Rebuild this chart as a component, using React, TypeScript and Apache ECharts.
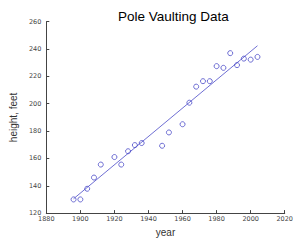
import React, { useEffect, useRef } from "react";
import * as echarts from "echarts";

const years = [1896, 1900, 1904, 1908, 1912, 1920, 1924, 1928, 1932, 1936, 1948, 1952, 1960, 1964, 1968, 1972, 1976, 1980, 1984, 1988, 1992, 1996, 2000, 2004];
const heights = [130, 130, 137.8, 146, 155.5, 161, 155.5, 165.25, 169.75, 171.25, 169.25, 179, 185, 200.75, 212.5, 216.5, 216.5, 227.5, 226.25, 237, 228.25, 233, 232.25, 234.25];

function fitLine(xs: number[], ys: number[]) {
  const n = xs.length;
  const mx = xs.reduce((a, b) => a + b, 0) / n;
  const my = ys.reduce((a, b) => a + b, 0) / n;
  let sxy = 0, sxx = 0;
  for (let i = 0; i < n; i++) {
    sxy += (xs[i] - mx) * (ys[i] - my);
    sxx += (xs[i] - mx) * (xs[i] - mx);
  }
  const k = sxy / sxx;
  const x0 = xs[0], x1 = xs[n - 1];
  return [[x0, my + k * (x0 - mx)], [x1, my + k * (x1 - mx)]];
}

export default function App() {
  const ref = useRef<HTMLDivElement>(null);
  useEffect(() => {
    if (!ref.current) return;
    const chart = echarts.init(ref.current, null, { renderer: "svg" });
    const blue = "#4a4ac8";
    const axisColor = "#444";
    chart.setOption({
      animation: false,
      backgroundColor: "#fff",
      title: {
        text: "Pole Vaulting Data",
        left: 113,
        top: 4,
        textStyle: { fontFamily: "Liberation Sans", fontSize: 13.5, fontWeight: "normal", color: "#000" },
      },
      grid: { left: 37, right: 10, top: 21.7, bottom: 24.7, containLabel: false },
      xAxis: {
        type: "value",
        min: 1880,
        max: 2020,
        interval: 20,
        name: "year",
        nameLocation: "middle",
        nameGap: 11,
        nameTextStyle: { fontFamily: "Liberation Sans", fontSize: 10, color: "#333" },
        axisLine: { show: true, lineStyle: { color: axisColor, width: 1 } },
        axisTick: { show: true, inside: true, length: 3, lineStyle: { color: axisColor } },
        axisLabel: { fontFamily: "DejaVu Sans", fontSize: 6.5, color: "#444", margin: 2, formatter: (v: number) => String(v) },
        splitLine: { show: false },
      },
      yAxis: {
        type: "value",
        min: 120,
        max: 260,
        interval: 20,
        name: "height, feet",
        nameLocation: "middle",
        nameGap: 19,
        nameTextStyle: { fontFamily: "Liberation Sans", fontSize: 10, color: "#333" },
        axisLine: { show: true, lineStyle: { color: axisColor, width: 1 } },
        axisTick: { show: true, inside: true, length: 3, lineStyle: { color: axisColor } },
        axisLabel: { fontFamily: "DejaVu Sans", fontSize: 6.5, color: "#444", margin: 5, formatter: (v: number) => String(v) },
        splitLine: { show: false },
      },
      series: [
        {
          type: "line",
          data: fitLine(years, heights),
          showSymbol: false,
          symbol: "none",
          lineStyle: { color: blue, width: 0.8 },
          z: 1,
        },
        {
          type: "scatter",
          data: years.map((y, i) => [y, heights[i]]),
          symbol: "circle",
          symbolSize: 5,
          itemStyle: { color: "rgba(255,255,255,0)", borderColor: blue, borderWidth: 1 },
          z: 2,
        },
      ],
    });
    return () => chart.dispose();
  }, []);
  return <div ref={ref} style={{ position: "fixed", left: 0, top: 0, width: 296, height: 242 }} />;
}
